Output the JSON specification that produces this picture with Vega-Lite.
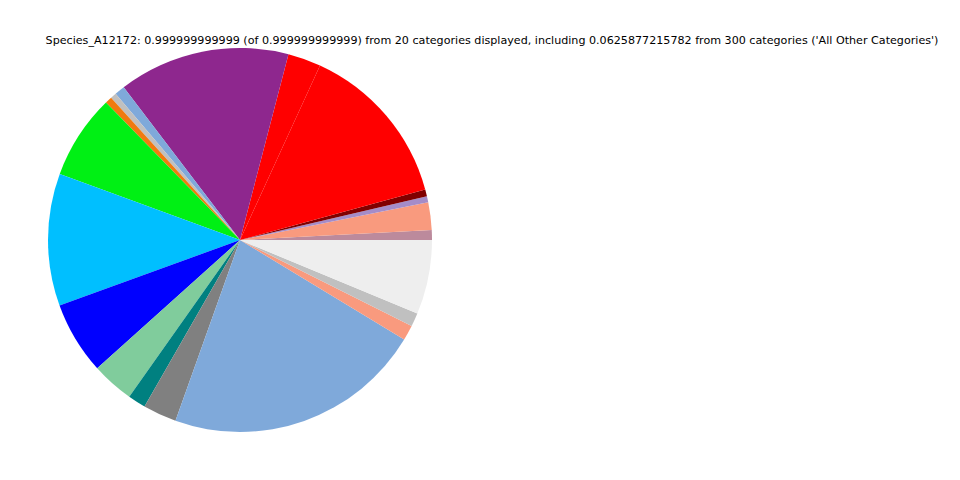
{
  "$schema": "https://vega.github.io/schema/vega-lite/v6.json",
  "width": 480,
  "height": 480,
  "autosize": {"type": "none"},
  "padding": {"left": 0, "top": 0, "right": 480, "bottom": 0},
  "background": "white",
  "view": {"stroke": null},
  "title": {
    "text": "Species_A12172: 0.999999999999 (of 0.999999999999) from 20 categories displayed, including 0.0625877215782 from 300 categories ('All Other Categories')",
    "font": "DejaVu Sans",
    "fontSize": 11.13,
    "fontWeight": "normal",
    "color": "black",
    "anchor": "middle",
    "baseline": "alphabetic",
    "offset": -55,
    "dx": 252
  },
  "data": {
    "values": [
      {"idx": 1, "category": "Category 1", "share": 0.0083},
      {"idx": 2, "category": "Category 2", "share": 0.0233},
      {"idx": 3, "category": "Category 3", "share": 0.0050},
      {"idx": 4, "category": "Category 4", "share": 0.0058},
      {"idx": 5, "category": "Category 5", "share": 0.1392},
      {"idx": 6, "category": "Category 6", "share": 0.0278},
      {"idx": 7, "category": "Category 7", "share": 0.1442},
      {"idx": 8, "category": "Category 8", "share": 0.0086},
      {"idx": 9, "category": "Category 9", "share": 0.0050},
      {"idx": 10, "category": "Category 10", "share": 0.0058},
      {"idx": 11, "category": "Category 11", "share": 0.0711},
      {"idx": 12, "category": "Category 12", "share": 0.1114},
      {"idx": 13, "category": "Category 13", "share": 0.0611},
      {"idx": 14, "category": "Category 14", "share": 0.0356},
      {"idx": 15, "category": "Category 15", "share": 0.0150},
      {"idx": 16, "category": "Category 16", "share": 0.0283},
      {"idx": 17, "category": "Category 17", "share": 0.2178},
      {"idx": 18, "category": "Category 18", "share": 0.0128},
      {"idx": 19, "category": "Category 19", "share": 0.0114},
      {"idx": 20, "category": "All Other Categories", "share": 0.0625877215782}
    ]
  },
  "mark": {"type": "arc", "outerRadius": 192, "stroke": null},
  "encoding": {
    "theta": {
      "field": "share",
      "type": "quantitative",
      "stack": true,
      "scale": {"range": [1.5707963, -4.7123890]}
    },
    "order": {"field": "idx", "type": "quantitative"},
    "color": {
      "field": "category",
      "type": "nominal",
      "legend": null,
      "scale": {
        "domain": ["Category 1", "Category 2", "Category 3", "Category 4", "Category 5", "Category 6", "Category 7", "Category 8", "Category 9", "Category 10", "Category 11", "Category 12", "Category 13", "Category 14", "Category 15", "Category 16", "Category 17", "Category 18", "Category 19", "All Other Categories"],
        "range": ["#bc8a9c", "#f99a7e", "#a58cc8", "#800000", "#ff0000", "#ff0000", "#8e278e", "#7fa9da", "#c0c0c0", "#f07a10", "#00f014", "#00bfff", "#0000ff", "#80cc9c", "#008080", "#808080", "#7fa9da", "#f99a7e", "#c0c0c0", "#eeeeee"]
      }
    }
  }
}
